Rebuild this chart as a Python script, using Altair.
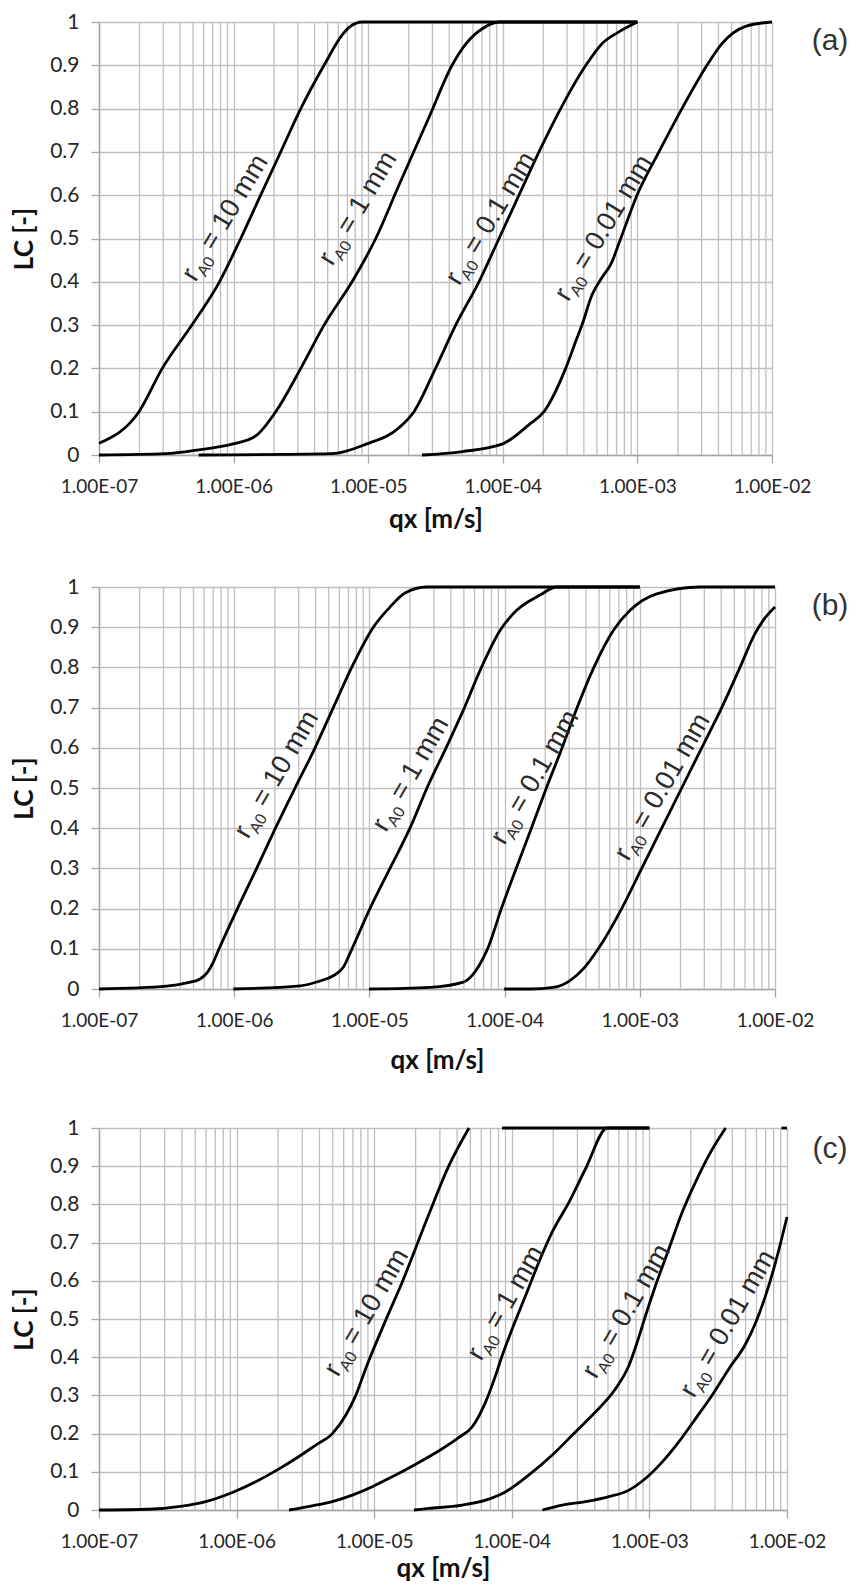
import altair as alt
import pandas as pd

# ---------------- axis ticks / labels ----------------
X_DECADES = [-7, -6, -5, -4, -3, -2]          # log10 of major x ticks
MINOR_MULT = [2, 3, 4, 5, 6, 7, 8, 9]
Y_TICKS = [0, 0.1, 0.2, 0.3, 0.4, 0.5, 0.6, 0.7, 0.8, 0.9, 1.0]
RADII = ["= 10 mm", "= 1 mm", "= 0.1 mm", "= 0.01 mm"]
PANEL_TAGS = ["(a)", "(b)", "(c)"]

# ---------------- panel (a) : log10(qx) and LC ----------------
A_10_LOGQ = [-7.0, -6.703, -6.53, -6.31, -6.105, -5.947, -5.799, -5.650, -5.501, -5.328, -5.193, -5.14, -5.045, -3.0]
A_10_LC = [0.027, 0.1, 0.2, 0.3, 0.4, 0.5, 0.6, 0.7, 0.8, 0.9, 0.97, 0.988, 1.0, 1.0]
A_1_LOGQ = [-7.0, -6.50, -6.257, -6.012, -5.836, -5.687, -5.501, -5.328, -5.120, -4.944, -4.776, -4.548, -4.377, -4.273, -4.15, -4.028, -3.0]
A_1_LC = [0.0, 0.003, 0.012, 0.025, 0.044, 0.1, 0.2, 0.3, 0.4, 0.5, 0.62, 0.78, 0.9, 0.95, 0.985, 1.0, 1.0]
A_01_LOGQ = [-6.26, -5.27, -5.016, -4.771, -4.66, -4.50, -4.35, -4.177, -4.028, -3.88, -3.731, -3.57, -3.383, -3.263, -3.15, -3.0]
A_01_LC = [0.0, 0.003, 0.025, 0.063, 0.1, 0.2, 0.3, 0.4, 0.5, 0.6, 0.7, 0.8, 0.9, 0.95, 0.975, 1.0]
A_001_LOGQ = [-4.60, -4.30, -4.006, -3.805, -3.694, -3.533, -3.449, -3.412, -3.337, -3.263, -3.198, -3.124, -3.003, -2.84, -2.669, -2.483, -2.372, -2.196, -2.0]
A_001_LC = [0.0, 0.008, 0.025, 0.07, 0.1, 0.2, 0.27, 0.3, 0.37, 0.41, 0.44, 0.5, 0.6, 0.7, 0.8, 0.9, 0.95, 0.99, 1.0]

# ---------------- panel (b) ----------------
B_10_LOGQ = [-7.0, -6.499, -6.351, -6.253, -6.201, -6.157, -6.112, -5.976, -5.834, -5.695, -5.550, -5.402, -5.267, -5.131, -4.971, -4.848, -4.737, -4.576, -3.0]
B_10_LC = [0.0, 0.007, 0.015, 0.025, 0.04, 0.065, 0.1, 0.2, 0.3, 0.4, 0.5, 0.6, 0.7, 0.8, 0.9, 0.95, 0.985, 1.0, 1.0]
B_1_LOGQ = [-6.007, -5.513, -5.365, -5.267, -5.193, -5.129, -4.996, -4.848, -4.700, -4.574, -4.433, -4.306, -4.182, -4.034, -3.911, -3.738, -3.615, -3.0]
B_1_LC = [0.0, 0.008, 0.02, 0.033, 0.054, 0.1, 0.2, 0.3, 0.4, 0.5, 0.6, 0.693, 0.792, 0.892, 0.942, 0.98, 1.0, 1.0]
B_01_LOGQ = [-5.003, -4.552, -4.306, -4.232, -4.155, -4.121, -4.021, -3.911, -3.800, -3.689, -3.578, -3.467, -3.344, -3.196, -3.072, -2.875, -2.555, -2.0]
B_01_LC = [0.0, 0.004, 0.017, 0.037, 0.079, 0.104, 0.203, 0.303, 0.402, 0.502, 0.597, 0.697, 0.797, 0.892, 0.942, 0.983, 1.0, 1.0]
B_001_LOGQ = [-4.004, -3.811, -3.640, -3.516, -3.418, -3.307, -3.134, -2.986, -2.838, -2.690, -2.542, -2.394, -2.259, -2.148, -2.087, -2.0]
B_001_LC = [0.0, 0.0, 0.004, 0.021, 0.05, 0.1, 0.2, 0.3, 0.4, 0.5, 0.6, 0.7, 0.8, 0.884, 0.917, 0.950]

# ---------------- panel (c) ----------------
C_10_LOGQ = [-7.0, -6.637, -6.395, -6.225, -6.031, -5.861, -5.704, -5.547, -5.425, -5.304, -5.207, -5.134, -5.062, -4.916, -4.796, -4.602, -4.456, -4.311]
C_10_LC = [0.0, 0.002, 0.01, 0.022, 0.046, 0.074, 0.105, 0.14, 0.17, 0.2, 0.248, 0.30, 0.37, 0.497, 0.597, 0.775, 0.902, 1.0]
C_10_TOP_LOGQ = [-4.071, -3.0]
C_10_TOP_LC = [1.0, 1.0]
C_1_LOGQ = [-5.619, -5.450, -5.305, -5.159, -5.014, -4.869, -4.698, -4.529, -4.384, -4.287, -4.190, -4.117, -4.069, -3.996, -3.899, -3.802, -3.706, -3.584, -3.463, -3.306, -3.0]
C_1_LC = [0.0, 0.011, 0.022, 0.039, 0.061, 0.087, 0.12, 0.155, 0.19, 0.218, 0.283, 0.353, 0.405, 0.475, 0.562, 0.65, 0.728, 0.806, 0.894, 1.0, 1.0]
C_01_LOGQ = [-4.711, -4.602, -4.360, -4.190, -4.044, -3.875, -3.706, -3.536, -3.391, -3.245, -3.148, -3.088, -3.027, -2.954, -2.858, -2.761, -2.664, -2.567, -2.446]
C_01_LC = [0.0, 0.004, 0.013, 0.026, 0.048, 0.092, 0.144, 0.205, 0.257, 0.318, 0.379, 0.44, 0.51, 0.589, 0.684, 0.78, 0.859, 0.929, 1.0]
C_01_TOP_LOGQ = [-2.04, -2.0]
C_01_TOP_LC = [1.0, 1.0]
C_001_LOGQ = [-3.778, -3.633, -3.463, -3.294, -3.148, -3.027, -2.906, -2.785, -2.663, -2.543, -2.422, -2.305, -2.225, -2.155, -2.082, -2.0]
C_001_LC = [0.0, 0.013, 0.022, 0.035, 0.052, 0.083, 0.126, 0.179, 0.240, 0.301, 0.37, 0.432, 0.493, 0.562, 0.65, 0.767]

# ---------------- curve label anchors (log10 qx, LC) ----------------
A_LAB_LOGQ = [-6.283, -5.268, -4.323, -3.513]
A_LAB_LC = [0.398, 0.435, 0.389, 0.352]
B_LAB_LOGQ = [-5.898, -4.878, -4.00, -3.085]
B_LAB_LC = [0.371, 0.388, 0.356, 0.316]
C_LAB_LOGQ = [-5.263, -4.223, -3.388, -2.678]
C_LAB_LC = [0.346, 0.388, 0.341, 0.291]

GRID = "#bfbfbf"
AXIS = "#a6a6a6"


def curves_df(series):
    rows = []
    for name, lq, lc in series:
        for a, b in zip(lq, lc):
            rows.append({"series": name, "q": 10.0 ** a, "lc": b})
    return pd.DataFrame(rows)


def labels_df(lq, lc):
    return pd.DataFrame({
        "q": [10.0 ** v for v in lq],
        "lc": lc,
        "r": ["r"] * len(lq),
        "sub": ["A0"] * len(lq),
        "rest": RADII,
    })


minor_df = pd.DataFrame({"q": [m * 10.0 ** d for d in X_DECADES[:-1] for m in MINOR_MULT]})

XS = alt.Scale(type="log", domain=[1e-7, 1e-2], nice=False)
YS = alt.Scale(domain=[0, 1], nice=False, zero=False)


def panel(cdf, ldf, tag, w, h, angle, title_pad, tag_dx, tag_y):
    xaxis = alt.Axis(
        values=[10.0 ** d for d in X_DECADES],
        labelExpr="'1.00E-0' + round(-log(datum.value) / LN10)",
        labelFlush=False,
        labelOverlap=False,
        title="qx [m/s]",
        titlePadding=title_pad,
        grid=True,
    )
    yaxis = alt.Axis(values=Y_TICKS, format="~g", title="LC [-]", grid=True)
    X = alt.X("q:Q", scale=XS, axis=xaxis)
    Y = alt.Y("lc:Q", scale=YS, axis=yaxis)
    minor = alt.Chart(minor_df).mark_rule(color=GRID, strokeWidth=1.3).encode(x=X)
    lines = alt.Chart(cdf).mark_line(color="black", strokeWidth=2.8, interpolate="monotone").encode(
        x=X, y=Y, detail="series:N",
    )
    base = alt.Chart(ldf).encode(x=X, y=Y)
    common = dict(align="left", baseline="alphabetic", angle=angle, font="Liberation Sans", color="#2b2b2b")
    t_r = base.mark_text(fontSize=27, **common).encode(text="r:N")
    t_sub = base.mark_text(fontSize=16, dx=9.5, dy=6, **common).encode(text="sub:N")
    t_rest = base.mark_text(fontSize=27, dx=36, **common).encode(text="rest:N")
    tag_t = alt.Chart(pd.DataFrame({"t": [tag]})).mark_text(
        font="Liberation Sans", fontSize=30, align="center", baseline="middle", color="#333"
    ).encode(x=alt.value(w + tag_dx), y=alt.value(tag_y), text="t:N")
    return alt.layer(minor, lines, t_r, t_sub, t_rest, tag_t).properties(width=w, height=h)


pa = panel(
    curves_df([("10", A_10_LOGQ, A_10_LC), ("1", A_1_LOGQ, A_1_LC), ("0.1", A_01_LOGQ, A_01_LC), ("0.01", A_001_LOGQ, A_001_LC)]),
    labels_df(A_LAB_LOGQ, A_LAB_LC), PANEL_TAGS[0], 673, 433, 301, 10, 58, 19,
)
pb = panel(
    curves_df([("10", B_10_LOGQ, B_10_LC), ("1", B_1_LOGQ, B_1_LC), ("0.1", B_01_LOGQ, B_01_LC), ("0.01", B_001_LOGQ, B_001_LC)]),
    labels_df(B_LAB_LOGQ, B_LAB_LC), PANEL_TAGS[1], 676, 402, 300, 17, 55, 19,
)
pc = panel(
    curves_df([("10", C_10_LOGQ, C_10_LC), ("10top", C_10_TOP_LOGQ, C_10_TOP_LC), ("1", C_1_LOGQ, C_1_LC),
               ("0.1", C_01_LOGQ, C_01_LC), ("0.1top", C_01_TOP_LOGQ, C_01_TOP_LC), ("0.01", C_001_LOGQ, C_001_LC)]),
    labels_df(C_LAB_LOGQ, C_LAB_LC), PANEL_TAGS[2], 688, 382, 300, 4, 43, 21,
)

chart = alt.vconcat(pa, pb, pc, spacing=44).properties(
    padding={"left": 3, "top": 3, "right": 0, "bottom": 0}
).configure_view(strokeWidth=0).configure_axis(
    domainColor=AXIS, domainWidth=1.5, gridColor=GRID, gridWidth=1.3,
    tickColor=AXIS, tickWidth=1.3, tickSize=8,
    labelFont="Lato", labelColor="#262626",
    titleFont="Lato", titleColor="#111111", titleFontWeight="bold", titleFontSize=26,
).configure_axisX(labelFontSize=19, labelPadding=14).configure_axisY(
    labelFontSize=21, labelPadding=12, titlePadding=12
)

chart.save("out.html", embed_options={"renderer": "svg", "actions": False})
